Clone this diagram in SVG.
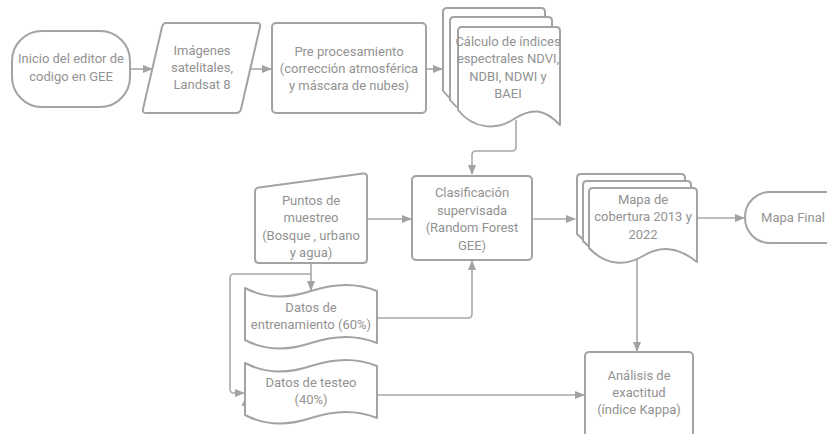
<svg xmlns="http://www.w3.org/2000/svg" width="827" height="434" viewBox="0 0 827 434">
<defs>
<style>
.n{fill:#fff;stroke:#a3a3a3;stroke-width:2;stroke-linejoin:round}
.c{fill:none;stroke:#a8a8a8;stroke-width:1.6}
text{font-family:Roboto,"Liberation Sans",sans-serif;font-size:13px;fill:#929292;text-anchor:middle}
</style>
<marker id="ah" markerWidth="10" markerHeight="8" refX="9" refY="4" orient="auto" markerUnits="userSpaceOnUse"><path d="M0,0 L10,4 L0,8 z" fill="#a3a3a3"/></marker>
</defs>
<rect width="827" height="434" fill="#fff"/>
<g id="connectors">
<path class="c" d="M130,69 H152" marker-end="url(#ah)"/>
<path class="c" d="M251,69 H271" marker-end="url(#ah)"/>
<path class="c" d="M426,69 H442" marker-end="url(#ah)"/>
<path class="c" d="M516,120 V147 Q516,151 512,151 H476 Q472,151 472,155 V174" marker-end="url(#ah)"/>
<path class="c" d="M367,219 H411" marker-end="url(#ah)"/>
<path class="c" d="M532,219 H575" marker-end="url(#ah)"/>
<path class="c" d="M697,218 H744" marker-end="url(#ah)"/>
<path class="c" d="M637,258 V351" marker-end="url(#ah)"/>
<path class="c" d="M311,263 V290" marker-end="url(#ah)"/>
<path class="c" d="M311,274 H234 Q230,274 230,278 V389 Q230,393 234,393 H244" marker-end="url(#ah)"/>
<path d="M245,398 L248.5,406 L241.5,406 Z" fill="#a3a3a3"/>
<path class="c" d="M377,318 H468 Q472,318 472,314 V261" marker-end="url(#ah)"/>
<path class="c" d="M377,395 H584" marker-end="url(#ah)"/>
</g>
<g id="inicio">
<rect class="n" x="12" y="31" width="118" height="76" rx="30"/>
<text x="71" y="63">Inicio del editor de</text>
<text x="71" y="81">codigo en GEE</text>
</g>
<g id="imagenes">
<path class="n" d="M166,23 H257 Q261,23 260,27 L241,109 Q240,113 236,113 H146 Q142,113 143,109 L162,27 Q163,23 166,23 Z"/>
<text x="202" y="55">Imágenes</text>
<text x="202" y="72">satelitales,</text>
<text x="202" y="89">Landsat 8</text>
</g>
<g id="preprocesamiento">
<rect class="n" x="272" y="23" width="154" height="90" rx="4"/>
<text x="349" y="56">Pre procesamiento</text>
<text x="349" y="73">(corrección atmosférica</text>
<text x="349" y="90">y máscara de nubes)</text>
</g>
<g id="calculo">
<path class="n" d="M447,8 H541 Q545,8 545,12 V106 C529,89 516,89 499,100 C482,111 459,111 443,91 V12 Q443,8 447,8 Z"/>
<path class="n" d="M454,17 H548 Q552,17 552,21 V115 C536,98 523,98 506,109 C489,120 466,120 450,100 V21 Q450,17 454,17 Z"/>
<path class="n" d="M462,27 H556 Q560,27 560,31 V125 C544,108 531,108 514,119 C497,130 474,130 458,110 V31 Q458,27 462,27 Z"/>
<text x="508" y="46">Cálculo de índices</text>
<text x="508" y="63">espectrales NDVI,</text>
<text x="508" y="81">NDBI, NDWI y</text>
<text x="508" y="98">BAEI</text>
</g>
<g id="clasificacion">
<rect class="n" x="412" y="176" width="120" height="84" rx="4"/>
<text x="472" y="197">Clasificación</text>
<text x="472" y="215">supervisada</text>
<text x="472" y="232">(Random Forest</text>
<text x="472" y="250">GEE)</text>
</g>
<g id="puntos">
<path class="n" d="M259,187.5 L363,173.5 Q367,173 367,177 V259 Q367,263 363,263 H259 Q255,263 255,259 V192 Q255,188 259,187.5 Z"/>
<text x="311" y="205">Puntos de</text>
<text x="311" y="222">muestreo</text>
<text x="311" y="240">(Bosque , urbano</text>
<text x="311" y="257">y agua)</text>
</g>
<g id="mapa-cobertura">
<path class="n" d="M581,174 H681 Q685,174 685,178 V248 C665,232 648,232 631,242 C614,252 594,252 577,234 V178 Q577,174 581,174 Z"/>
<path class="n" d="M587,181 H687 Q691,181 691,185 V255 C671,239 654,239 637,249 C620,259 600,259 583,241 V185 Q583,181 587,181 Z"/>
<path class="n" d="M593,188 H693 Q697,188 697,192 V262 C677,246 660,246 643,256 C626,266 606,266 589,248 V192 Q589,188 593,188 Z"/>
<text x="643" y="204">Mapa de</text>
<text x="643" y="221">cobertura 2013 y</text>
<text x="643" y="239">2022</text>
</g>
<g id="mapa-final">
<rect class="n" x="745" y="192" width="120" height="51" rx="25"/>
<text x="793" y="222">Mapa Final</text>
</g>
<g id="entrenamiento">
<path class="n" d="M245,288 C268,300 290,298 311,291 C332,284 355,282 377,291 V343 C355,334 332,336 311,343 C290,350 268,352 245,340 Z"/>
<text x="311" y="312">Datos de</text>
<text x="311" y="329">entrenamiento (60%)</text>
</g>
<g id="testeo">
<path class="n" d="M245,363 C268,375 290,373 311,366 C332,359 355,357 377,366 V418 C355,409 332,411 311,418 C290,425 268,427 245,415 Z"/>
<text x="311" y="387">Datos de testeo</text>
<text x="311" y="404">(40%)</text>
</g>
<g id="analisis">
<rect class="n" x="585" y="352" width="108" height="100" rx="4"/>
<text x="639" y="380">Análisis de</text>
<text x="639" y="397">exactitud</text>
<text x="639" y="414">(índice Kappa)</text>
</g>
</svg>
